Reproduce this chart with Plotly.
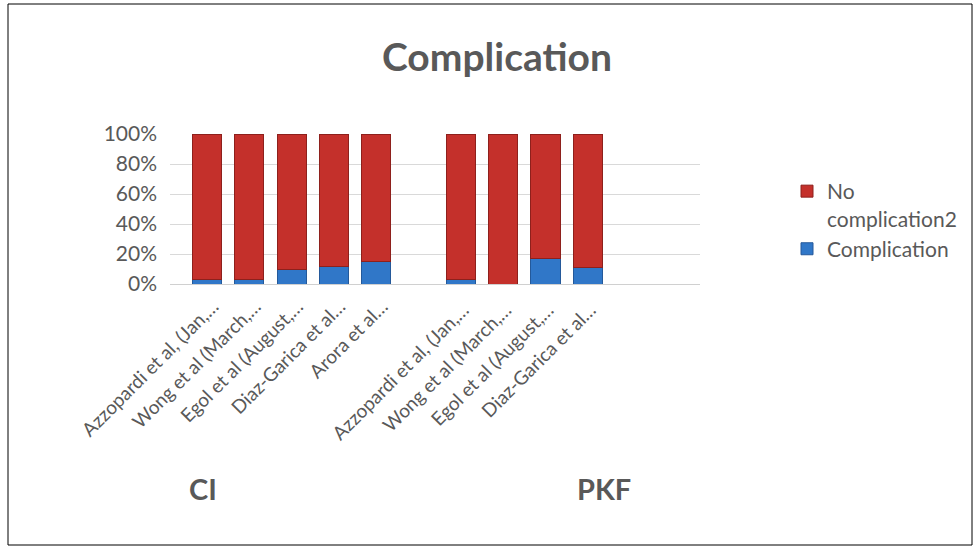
import plotly.graph_objects as go

categories = ["Azzopardi et al, (Jan,…", "Wong et al (March,…", "Egol et al (August,…",
              "Diaz-Garica et al…", "Arora et al…", " ",
              "Azzopardi et al, (Jan,… ", "Wong et al (March,… ", "Egol et al (August,… ",
              "Diaz-Garica et al… "]
complication = [3, 3, 10, 12, 15, None, 3, 0, 17, 11]
no_complication = [97, 97, 90, 88, 85, None, 97, 100, 83, 89]
group_labels = ["CI", "PKF"]
y_ticks = [0, 20, 40, 60, 80, 100]
y_tick_text = ["0%", "20%", "40%", "60%", "80%", "100%"]

W, H = 979, 549
L, R, T, B = 170, 279, 134, 265
pw, ph = W - L - R, H - T - B
FONT = "Lato"
GRAY = "#595959"

fig = go.Figure()
fig.add_trace(go.Bar(x=categories, y=complication, name="Complication",
                     marker=dict(color="#3077C8", line=dict(color="#24599A", width=1))))
fig.add_trace(go.Bar(x=categories, y=no_complication, name="No<br>complication2",
                     marker=dict(color="#C4302B", line=dict(color="#8E201C", width=1))))

fig.update_layout(
    width=W, height=H,
    margin=dict(l=L, r=R, t=T, b=B),
    barmode="stack", bargap=0.31,
    paper_bgcolor="white", plot_bgcolor="white",
    font=dict(family=FONT, color=GRAY),
    title=dict(text="<b>Complication</b>", x=(497 - L) / pw, xref="paper", xanchor="center",
               y=1 - 57 / H, yanchor="middle", font=dict(size=39, color=GRAY, family=FONT)),
    legend=dict(x=(787 - L) / pw, xanchor="left", y=(H - B - 171) / ph, yanchor="top",
                traceorder="reversed", valign="top", font=dict(size=21, color=GRAY, family=FONT),
                bgcolor="rgba(0,0,0,0)", tracegroupgap=0, itemwidth=30),
    showlegend=True,
)
fig.update_xaxes(type="category", range=[-0.875, 11.65], tickangle=-45, showgrid=False,
                 showline=True, linecolor="#D0D0D0", ticks="",
                 ticklabelshift=6, ticklabelstandoff=3,
                 tickfont=dict(size=19, color=GRAY, family=FONT))
fig.update_yaxes(range=[0, 100], tickvals=y_ticks, ticktext=y_tick_text,
                 showgrid=True, gridcolor="#D9D9D9", zeroline=False, ticklabelstandoff=12,
                 tickfont=dict(size=21, color=GRAY, family=FONT))

fig.add_annotation(text="<b>" + group_labels[0] + "</b>", xref="paper", yref="paper",
                   x=(187 - L) / pw, y=(H - 508 - B) / ph, showarrow=False,
                   font=dict(size=29, color=GRAY, family=FONT))
fig.add_annotation(text="<b>" + group_labels[1] + "</b>", xref="paper", yref="paper",
                   x=(633 - L) / pw, y=(H - 508 - B) / ph, showarrow=False,
                   font=dict(size=29, color=GRAY, family=FONT))

fig.add_shape(type="rect", xref="paper", yref="paper",
              x0=(8 - L) / pw, x1=(972 - L) / pw,
              y0=(H - 545 - B) / ph, y1=(H - 4 - B) / ph,
              line=dict(color="black", width=1))

fig.write_html("out.html", config={"displayModeBar": False})
with open("out.html", encoding="utf-8") as f:
    html = f.read()
html = html.replace("<head>", "<head><style>html,body{margin:0;padding:0;overflow:hidden;}</style>", 1)
with open("out.html", "w", encoding="utf-8") as f:
    f.write(html)
